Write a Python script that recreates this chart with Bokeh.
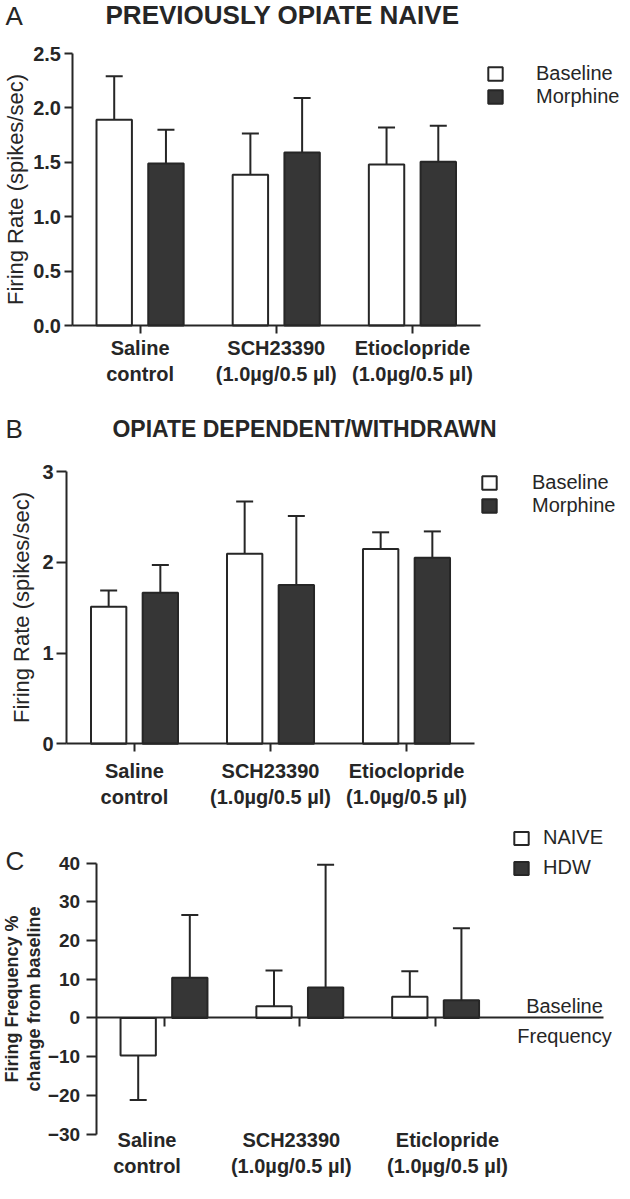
from bokeh.plotting import figure
from bokeh.models import (ColumnDataSource, Range1d, FixedTicker, Whisker, TeeHead,
                          Legend, LegendItem, Label, LinearAxis, NumeralTickFormatter)
from bokeh.transform import dodge
from bokeh.layouts import column
from bokeh.embed import file_html
from bokeh.resources import INLINE

# ---------------- data ----------------
groups_ab = ["Saline\ncontrol", "SCH23390\n(1.0µg/0.5 µl)", "Etioclopride\n(1.0µg/0.5 µl)"]
groups_c = ["Saline\ncontrol", "SCH23390\n(1.0µg/0.5 µl)", "Eticlopride\n(1.0µg/0.5 µl)"]

series_ab = ["Baseline", "Morphine"]
series_c = ["NAIVE", "HDW"]

# Panel A: previously opiate naive (spikes/sec, mean and SEM)
a_baseline = [1.89, 1.385, 1.48]
a_baseline_sem = [0.40, 0.38, 0.34]
a_morphine = [1.49, 1.59, 1.505]
a_morphine_sem = [0.31, 0.50, 0.33]

# Panel B: opiate dependent / withdrawn
b_baseline = [1.51, 2.095, 2.145]
b_baseline_sem = [0.18, 0.575, 0.185]
b_morphine = [1.665, 1.75, 2.05]
b_morphine_sem = [0.305, 0.76, 0.29]

# Panel C: % change from baseline
c_naive = [-9.7, 3.0, 5.5]
c_naive_sem = [11.5, 9.25, 6.6]
c_hdw = [10.4, 7.9, 4.6]
c_hdw_sem = [16.2, 31.7, 18.6]

a_yticks = [0, 0.5, 1.0, 1.5, 2.0, 2.5]
b_yticks = [0, 1, 2, 3]
c_yticks = [-30, -20, -10, 0, 10, 20, 30, 40]
c_label_shift = [-0.125, -0.0625, 0.0875]

# ---------------- style ----------------
FONT = "Liberation Sans"
INK = "#262626"
DARK = "#363636"
OFF = 0.19
BAR_W = 0.26
W = 622  # canvas width of every panel


def panel_fig(h, ax_x0, ax_x1, xd, ax_y0, ax_y1, yd):
    """Figure whose frame fills the canvas; axis end points given in canvas px."""
    kx = (ax_x1 - ax_x0) / (xd[1] - xd[0])
    ky = (ax_y0 - ax_y1) / (yd[1] - yd[0])
    xr = Range1d(xd[0] - ax_x0 / kx, xd[0] + (W - ax_x0) / kx)
    yr = Range1d(yd[0] - (h - ax_y0) / ky, yd[0] + ax_y0 / ky)
    p = figure(frame_width=W, frame_height=h,
               min_border_left=0, min_border_right=0,
               min_border_top=0, min_border_bottom=0,
               x_range=xr, y_range=yr, output_backend="svg",
               toolbar_location=None, tools="")
    p.grid.visible = False
    p.outline_line_color = None
    p.background_fill_color = "white"
    p.border_fill_color = "white"
    return p


def style_axis(ax, tick_out=8):
    ax.axis_line_color = INK
    ax.axis_line_width = 2
    ax.major_tick_line_color = INK
    ax.major_tick_line_width = 2
    ax.major_tick_in = 0
    ax.major_tick_out = tick_out
    ax.minor_tick_line_color = None
    ax.major_label_text_font = FONT
    ax.major_label_text_font_style = "bold"
    ax.major_label_text_color = INK


def add_bars(p, n, v1, e1, v2, e2):
    x = list(range(1, n + 1))
    t1 = [v + (e if v >= 0 else -e) for v, e in zip(v1, e1)]
    t2 = [v + (e if v >= 0 else -e) for v, e in zip(v2, e2)]
    src = ColumnDataSource(dict(x=x, v1=v1, v2=v2, t1=t1, t2=t2))
    r1 = p.vbar(x=dodge("x", -OFF, range=p.x_range), top="v1", bottom=0, width=BAR_W,
                source=src, fill_color="white", line_color=INK, line_width=2)
    r2 = p.vbar(x=dodge("x", OFF, range=p.x_range), top="v2", bottom=0, width=BAR_W,
                source=src, fill_color=DARK, line_color=INK, line_width=2)
    for off, lo, hi in [(-OFF, "v1", "t1"), (OFF, "v2", "t2")]:
        w = Whisker(source=src, base=dodge("x", off, range=p.x_range), lower=lo, upper=hi,
                    lower_head=None,
                    upper_head=TeeHead(size=17, line_width=2, line_color=INK),
                    line_width=2, line_color=INK, level="glyph")
        p.add_layout(w)
    return x, r1, r2


def add_legend(p, names, r1, r2, loc, standoff, spacing, gw, gh):
    leg = Legend(items=[LegendItem(label=names[0], renderers=[r1]),
                        LegendItem(label=names[1], renderers=[r2])],
                 location=loc, orientation="vertical",
                 border_line_color=None, background_fill_alpha=0,
                 padding=0, margin=0, spacing=spacing,
                 glyph_width=gw, glyph_height=gh, label_standoff=standoff,
                 label_height=22,
                 label_text_font=FONT, label_text_font_size="20px",
                 label_text_color=INK)
    p.add_layout(leg)


def add_text(p, x, y, text, size, bold=False, align="left", y_units="screen", y_offset=0):
    p.add_layout(Label(x=x, y=y, x_units="screen", y_units=y_units, y_offset=y_offset,
                       text=text, text_font=FONT, text_font_size=size,
                       text_font_style="bold" if bold else "normal",
                       text_align=align, text_baseline="middle", text_color=INK))


def setup_axes(p, x, groups, yticks, x_end, y_top, ylabel, ylabel_bold, ylabel_size,
               xlabel_standoff, ytick_out, ytick_standoff, ylab_standoff, fmt=None):
    xa = p.xaxis[0]
    style_axis(xa)
    xa.fixed_location = 0
    xa.bounds = (0.5, x_end)
    xa.ticker = FixedTicker(ticks=x)
    if groups is not None:
        xa.major_label_overrides = {i: g for i, g in zip(x, groups)}
        xa.major_label_text_font_size = "20px"
        xa.major_label_standoff = xlabel_standoff
    else:
        xa.major_label_text_color = None
    ya = p.yaxis[0]
    style_axis(ya, tick_out=ytick_out)
    ya.fixed_location = 0.5
    ya.bounds = (yticks[0], y_top)
    ya.ticker = FixedTicker(ticks=yticks)
    if fmt:
        ya.formatter = NumeralTickFormatter(format=fmt)
    ya.major_label_text_font_size = "20px"
    ya.major_label_standoff = ytick_standoff
    ya.axis_label = ylabel
    ya.axis_label_text_font = FONT
    ya.axis_label_text_font_style = "bold" if ylabel_bold else "normal"
    ya.axis_label_text_font_size = ylabel_size
    ya.axis_label_text_color = INK
    ya.axis_label_standoff = ylab_standoff


# ---------------- panel A (page y 0..400) ----------------
HA = 400
pA = panel_fig(HA, 71.5, 480, (0.5, 3.5), 325, 53, (0, 2.5))
xA, rA1, rA2 = add_bars(pA, len(groups_ab), a_baseline, a_baseline_sem, a_morphine, a_morphine_sem)
setup_axes(pA, xA, groups_ab, a_yticks, 3.5, 2.5, "Firing Rate (spikes/sec)", False, "22px",
           3, 8, 3, 3, fmt="0.0")
add_legend(pA, series_ab, rA1, rA2, (486, HA - 108), 32, 0, 18, 17)
add_text(pA, 5, HA - 15, "A", "26px")
add_text(pA, 282, HA - 14, "PREVIOUSLY OPIATE NAIVE", "26px", bold=True, align="center")

# ---------------- panel B (page y 400..820) ----------------
HB = 420
pB = panel_fig(HB, 66, 474, (0.5, 3.5), 343.3, 71, (0, 3))
xB, rB1, rB2 = add_bars(pB, len(groups_ab), b_baseline, b_baseline_sem, b_morphine, b_morphine_sem)
setup_axes(pB, xB, groups_ab, b_yticks, 3.5, 3, "Firing Rate (spikes/sec)", False, "22px",
           8, 10, 3, 5)
add_legend(pB, series_ab, rB1, rB2, (480, HB - 117), 34, 0, 18, 17)
add_text(pB, 5, HB - 28, "B", "26px")
add_text(pB, 304, HB - 28, "OPIATE DEPENDENT/WITHDRAWN", "23px", bold=True, align="center")

# ---------------- panel C (page y 820..1191) ----------------
HC = 371
pC = panel_fig(HC, 95.6, 602.7, (0.5, 4.234), 313.5, 42.7, (-30, 40))
xC, rC1, rC2 = add_bars(pC, len(groups_c), c_naive, c_naive_sem, c_hdw, c_hdw_sem)
setup_axes(pC, xC, None, c_yticks, 4.234, 40, "Firing Frequency %\nchange from baseline", True,
           "18px", 0, 10, 6, 1)
pC.xaxis[0].major_tick_out = 9
pC.yaxis[0].major_label_text_font_size = "19px"
pC.yaxis[0].axis_label_text_line_height = 1.1

lab_ax = LinearAxis(fixed_location=-30)
lab_ax.axis_line_color = None
lab_ax.major_tick_line_color = None
lab_ax.minor_tick_line_color = None
lab_ax.major_tick_out = 0
lab_ax.major_tick_in = 0
lab_pos = [i + s for i, s in zip(xC, c_label_shift)]
lab_ax.ticker = FixedTicker(ticks=lab_pos)
lab_ax.major_label_overrides = {q: g for q, g in zip(lab_pos, groups_c)}
lab_ax.major_label_text_font = FONT
lab_ax.major_label_text_font_style = "bold"
lab_ax.major_label_text_font_size = "20px"
lab_ax.major_label_text_color = INK
lab_ax.major_label_standoff = -5
pC.add_layout(lab_ax, "below")

add_legend(pC, series_c, rC1, rC2, (512, HC - 59), 13, 7, 18, 16)
add_text(pC, 5, HC - 40, "C", "26px")
add_text(pC, 564, 0, "Baseline", "20px", align="center", y_units="data", y_offset=12)
add_text(pC, 564, 0, "Frequency", "20px", align="center", y_units="data", y_offset=-18)

layout = column(pA, pB, pC, spacing=0)
open("out.html", "w").write(file_html(layout, INLINE))
